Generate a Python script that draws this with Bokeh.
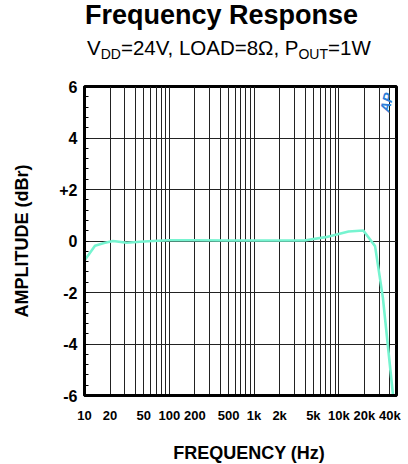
import math
from bokeh.plotting import figure
from bokeh.models import FixedTicker, Label, ColumnDataSource, Range1d, Div
from bokeh.layouts import column
from bokeh.embed import file_html
from bokeh.resources import INLINE

# ---- data ----
freq_hz = [10, 13.3, 17, 21.7, 31.5, 45, 64, 100, 200, 500, 1000, 2000, 3900,
           7000, 13000, 19400, 26700, 33000, 43500]
amplitude_dbr = [-0.76, -0.18, -0.08, 0.0, -0.07, -0.03, 0.0, 0.03, 0.03, 0.02,
                 0.02, 0.02, 0.02, 0.15, 0.37, 0.41, -0.2, -2.2, -6.0]

grid_freqs = [m * 10 ** d for d in range(1, 5) for m in range(1, 10) if m * 10 ** d <= 40000]
freq_labels = {10: "10", 20: "20", 50: "50", 100: "100", 200: "200", 500: "500",
               1000: "1k", 2000: "2k", 5000: "5k", 10000: "10k", 20000: "20k", 40000: "40k"}
amp_ticks = [-6, -4, -2, 0, 2, 4, 6]
amp_labels = {6: "6", 4: "4", 2: "+2", 0: "0", -2: "-2", -4: "-4", -6: "-6"}
amp_minor = [round(-6 + 0.4 * i, 2) for i in range(31)]

title_text = "Frequency Response"
subtitle_html = "V<sub>DD</sub>=24V, LOAD=8\u03a9, P<sub>OUT</sub>=1W"
x_title = "FREQUENCY (Hz)"
y_title = "AMPLITUDE (dBr)"

# ---- layout ----
PAGE_W, PAGE_H = 408, 464
TOP_H = 70
BOT_H = 34
FX0, FX1, FY0, FY1 = 84.0, 396.0, 86.0, 395.0   # frame edges in page pixels
XMIN = 10.0
PXDEC = 84.8
XMAX = 10 ** (1 + (FX1 - FX0) / PXDEC)
YMIN, YMAX = -6.0, 6.0
FONT = "'Liberation Sans',Arial,sans-serif"


def px(xp):
    return 10 ** (1 + (xp - FX0) / PXDEC)


def py(yp):
    return YMAX - (yp - FY0) * (YMAX - YMIN) / (FY1 - FY0)


FIG_H = PAGE_H - TOP_H - BOT_H
p = figure(width=PAGE_W, height=FIG_H, x_axis_type="log", output_backend="svg",
           toolbar_location=None,
           x_range=Range1d(XMIN, XMAX), y_range=Range1d(YMIN, YMAX),
           min_border_left=int(FX0), min_border_right=int(PAGE_W - FX1),
           min_border_top=int(FY0 - TOP_H), min_border_bottom=int(PAGE_H - BOT_H - FY1),
           margin=0)
p.background_fill_color = "white"
p.border_fill_color = "white"
p.outline_line_color = "black"
p.outline_line_width = 3

# x axis
p.xaxis.ticker = FixedTicker(ticks=grid_freqs)
p.xaxis.major_label_overrides = {f: freq_labels.get(f, "") for f in grid_freqs}
p.xaxis.major_label_text_font = "Liberation Sans"
p.xaxis.major_label_text_font_style = "bold"
p.xaxis.major_label_text_font_size = "13px"
p.xaxis.major_label_text_color = "black"
p.xaxis.major_label_standoff = 12
p.xaxis.major_tick_in = 0
p.xaxis.major_tick_out = 0
p.xaxis.minor_tick_in = 0
p.xaxis.minor_tick_out = 0
p.xaxis.axis_line_width = 3
p.xaxis.axis_line_color = "black"

# y axis
p.yaxis.ticker = FixedTicker(ticks=amp_ticks, minor_ticks=amp_minor)
p.yaxis.major_label_overrides = amp_labels
p.yaxis.major_label_text_font = "Liberation Sans"
p.yaxis.major_label_text_font_style = "bold"
p.yaxis.major_label_text_font_size = "16px"
p.yaxis.major_label_text_color = "black"
p.yaxis.major_label_standoff = 7
p.yaxis.major_tick_in = 0
p.yaxis.major_tick_out = 0
p.yaxis.minor_tick_in = 4
p.yaxis.minor_tick_out = 0
p.yaxis.minor_tick_line_color = "black"
p.yaxis.axis_line_width = 3
p.yaxis.axis_line_color = "black"
p.yaxis.axis_label = y_title
p.yaxis.axis_label_text_font = "Liberation Sans"
p.yaxis.axis_label_text_font_style = "bold"
p.yaxis.axis_label_text_font_size = "18px"
p.yaxis.axis_label_text_color = "black"
p.yaxis.axis_label_standoff = 24

p.xgrid.grid_line_color = "#222222"
p.xgrid.grid_line_width = 1
p.ygrid.grid_line_color = "#222222"
p.ygrid.grid_line_width = 1

src = ColumnDataSource(dict(f=freq_hz, a=amplitude_dbr))
p.line("f", "a", source=src, line_color="#76F4D0", line_width=2.6)

# AP logo
p.add_layout(Label(x=px(386), y=py(102), text="AP", text_align="center", text_baseline="middle",
                   angle=1.35, text_font="Liberation Sans", text_font_style="bold italic",
                   text_font_size="14px", text_color="#2F7FD8"))

sub_style = "font-size:14px;vertical-align:-4px;line-height:0"
head = (
    f'<div style="position:relative;width:{PAGE_W}px;height:{TOP_H}px;'
    f'font-family:{FONT};color:black;">'
    '<div style="position:absolute;left:0;top:2px;width:443px;text-align:center;'
    f'font-size:27px;line-height:27px;font-weight:bold;white-space:nowrap;">{title_text}</div>'
    '<div style="position:absolute;left:87px;top:38px;font-size:20.5px;line-height:20px;'
    f'white-space:nowrap;">{subtitle_html.replace("<sub>", "<sub style=" + chr(39) + sub_style + chr(39) + ">")}</div>'
    '</div>'
)
top_div = Div(text=head, width=PAGE_W, height=TOP_H, margin=0)

foot = (
    f'<div style="position:relative;width:{PAGE_W}px;height:{BOT_H}px;'
    f'font-family:{FONT};color:black;">'
    '<div style="position:absolute;left:0;top:14px;width:498px;text-align:center;'
    f'font-size:18px;line-height:18px;font-weight:bold;white-space:nowrap;">{x_title}</div>'
    '</div>'
)
bot_div = Div(text=foot, width=PAGE_W, height=BOT_H, margin=0)

layout = column(top_div, p, bot_div, spacing=0)
open("out.html", "w").write(file_html(layout, INLINE))
